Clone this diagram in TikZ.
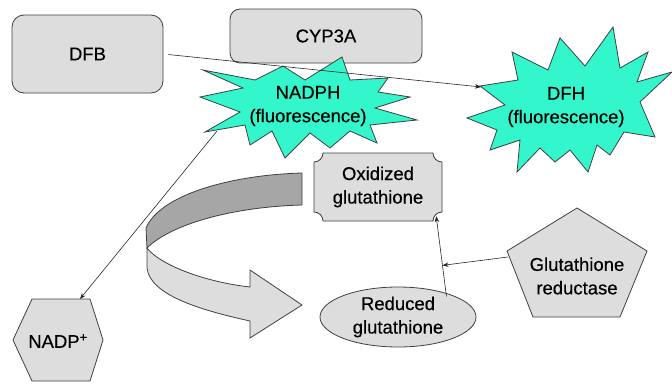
\documentclass[tikz,border=0pt]{standalone}
\usepackage{fontspec}
\setmainfont{Liberation Sans}
\newfontfamily\lblfont[FakeBold=0.4]{Liberation Sans}
\usetikzlibrary{shapes.geometric,calc,arrows.meta}
\definecolor{starc}{RGB}{51,246,204}
\definecolor{boxg}{RGB}{221,221,221}
\definecolor{ribd}{RGB}{166,166,166}
\definecolor{edgec}{RGB}{64,64,64}
\begin{document}
\begin{tikzpicture}[x=1pt,y=-1pt,
  shp/.style={draw=edgec,line width=0.8pt},
  lbl/.style={font=\lblfont\fontsize{18.5}{23.5}\selectfont,align=center,inner sep=0pt},
  conn/.style={draw=black!85,line width=0.6pt,-{Stealth[length=6pt,width=4.5pt]}}]
\useasboundingbox (0,0) rectangle (672,383);
% boxes
\node[shp,fill=boxg,rounded corners=12pt,minimum width=151pt,minimum height=78pt,lbl] (DFB) at (87.5,54) {DFB};
\node[shp,fill=boxg,rounded corners=10pt,minimum width=192pt,minimum height=54pt,lbl] (CYP) at (326,36) {CYP3A};
% NADPH star
\filldraw[shp,fill=starc] (200,97) -- (243,88) -- (203,70) -- (255,80) -- (283,66) -- (305,80) -- (342,57) -- (350,80) -- (388,78) -- (378,92) -- (410,97) -- (375,108) -- (417,120) -- (370,125) -- (377,143) -- (350,131) -- (330,148) -- (310,133) -- (285,158) -- (272,131) -- (250,145) -- (245,125) -- (205,132) -- (240,112) -- cycle;
\node[lbl] (NADPH) at (308,106) {NADPH\\(fluorescence)};
% DFH star
\filldraw[shp,fill=starc] (467,118) -- (505,105) -- (480,86) -- (518,80) -- (512,52) -- (548,70) -- (560,38) -- (585,66) -- (613,27) -- (620,68) -- (648,52) -- (637,82) -- (672,72) -- (640,102) -- (655,137) -- (624,132) -- (610,155) -- (597,145) -- (588,172) -- (570,150) -- (555,162) -- (540,148) -- (517,172) -- (520,140) -- (490,150) -- (497,130) -- cycle;
\node[lbl] (DFH) at (566,107) {DFH\\(fluorescence)};
% ribbon arrow
\filldraw[shp,fill=ribd] (302,173) .. controls (230,175) and (160,195) .. (146,228) -- (147,248) .. controls (170,225) and (230,207) .. (302,205) -- cycle;
\filldraw[shp,fill=boxg] (147,248) .. controls (160,265) and (205,282) .. (250,287) -- (250,270) -- (302,305) -- (250,338) -- (250,321) .. controls (200,310) and (150,295) .. (147,268) -- cycle;
% oxidized glutathione plaque
\filldraw[shp,fill=boxg] (323,153) -- (433,153) .. controls (433,158) and (437,162) .. (442,162) -- (442,212) .. controls (437,212) and (433,216) .. (433,221) -- (323,221) .. controls (323,216) and (319,212) .. (314,212) -- (314,162) .. controls (319,162) and (323,158) .. (323,153) -- cycle;
\node[lbl,minimum width=128pt,minimum height=68pt] (ox) at (378,187) {Oxidized\\glutathione};
% reduced glutathione
\node[shp,fill=boxg,ellipse,minimum width=156pt,minimum height=60pt,lbl] (red) at (398,317) {Reduced\\glutathione};
% glutathione reductase pentagon
\filldraw[shp,fill=boxg] (577,208) -- (647,251) -- (620,317) -- (533,317) -- (507,251) -- cycle;
\node[lbl] (GR) at (577,276) {Glutathione\\reductase};
% NADP+ hexagon
\filldraw[shp,fill=boxg] (13,340) -- (32,299) -- (90,299) -- (103,340) -- (90,381) -- (32,381) -- cycle;
\node[lbl] (NADP) at (58,341) {NADP\textsuperscript{+}};
% connector end points
\coordinate (dfhW) at (481,87);
\coordinate (nadphSW) at (217,131);
\coordinate (hexT) at (80,299);
\coordinate (vtop) at ($(ox.south east)+(-6,-5)$);
\coordinate (vbot) at ($(red.north east)+(-7,1)$);
\coordinate (gstart) at (508,257);
% connectors
\draw[conn,shorten <=5pt] (DFB.east) -- (dfhW);
\draw[conn] (nadphSW) -- (hexT);
\draw[conn] (vbot) -- (vtop);
\draw[conn] (gstart) -- ($(vbot)!(gstart)!(vtop)$);
\end{tikzpicture}
\end{document}
